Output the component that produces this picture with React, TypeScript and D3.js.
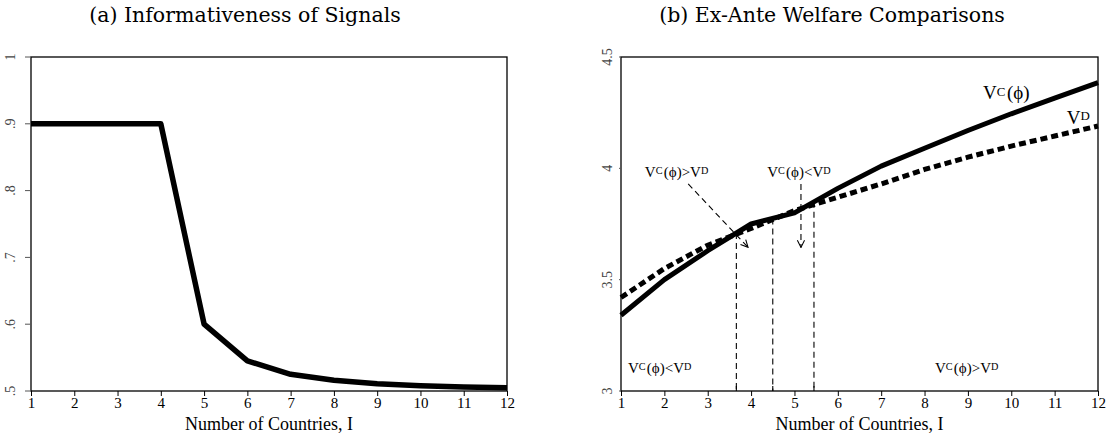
import * as d3 from 'd3';
import { useEffect, useRef } from 'react';

// panel (a): informativeness
const countries = [1, 2, 3, 4, 5, 6, 7, 8, 9, 10, 11, 12];
const informativeness = [0.9, 0.9, 0.9, 0.9, 0.6, 0.545, 0.525, 0.516, 0.511, 0.508, 0.506, 0.505];
const leftTicks = [0.5, 0.6, 0.7, 0.8, 0.9, 1];
const leftTickLabels = ['.5', '.6', '.7', '.8', '.9', '1'];

// panel (b): welfare
const welfareC = [3.34, 3.5, 3.63, 3.75, 3.8, 3.91, 4.01, 4.09, 4.17, 4.245, 4.315, 4.385];
const welfareD = [3.42, 3.55, 3.655, 3.73, 3.81, 3.87, 3.93, 3.995, 4.05, 4.1, 4.145, 4.19];
const rightTicks = [3, 3.5, 4, 4.5];
const rightTickLabels = ['3', '3.5', '4', '4.5'];
const crossings = [3.66, 4.5, 5.45];

const W = 1112;
const H = 438;
const top = 57;
const bottom = 391;
const serif = '"Liberation Serif", "DejaVu Serif", serif';
const titleFont = '"DejaVu Serif", serif';

// V^C(φ) > V^D style label
function vLabel(g, x, y, parts, size, anchor = 'start') {
  const t = g.append('text')
    .attr('x', x).attr('y', y)
    .attr('text-anchor', anchor)
    .style('font-family', serif)
    .style('font-size', size + 'px');
  parts.forEach(p => {
    if (p.sup) {
      t.append('tspan').attr('font-size', size * 0.68).attr('dy', -size * 0.2).text(p.sup);
      t.append('tspan').attr('dy', size * 0.2).text('\u200a');
    } else {
      t.append('tspan').text(p.t);
    }
  });
  return t;
}

const App = () => {
  const ref = useRef(null);

  useEffect(() => {
    document.body.style.margin = '0';
    const svg = d3.select(ref.current);
    svg.selectAll('*').remove();
    svg.append('rect').attr('width', W).attr('height', H).attr('fill', 'white');

    // titles
    svg.append('text').attr('x', 245).attr('y', 22).attr('text-anchor', 'middle')
      .style('font-family', titleFont).style('font-size', '20.5px').text('(a) Informativeness of Signals');
    svg.append('text').attr('x', 832).attr('y', 22).attr('text-anchor', 'middle')
      .style('font-family', titleFont).style('font-size', '20.5px').text('(b) Ex-Ante Welfare Comparisons');

    const drawFrame = (x0, x1, yScale, ticks, labels, tickLen, labelOff) => {
      const xs = d3.scaleLinear().domain([1, 12]).range([x0, x1]);
      const g = svg.append('g');
      g.append('rect').attr('x', x0).attr('y', top).attr('width', x1 - x0).attr('height', bottom - top)
        .attr('fill', 'none').attr('stroke', '#000').attr('stroke-width', 1.3);
      const xa = g.append('g').attr('transform', `translate(0,${bottom})`)
        .call(d3.axisBottom(xs).tickValues(countries).tickSize(5).tickFormat(d3.format('d')));
      xa.select('.domain').remove();
      xa.selectAll('text').style('font-family', serif).style('font-size', '15px').attr('dy', '0.6em');
      g.append('text').attr('x', (x0 + x1) / 2).attr('y', 430).attr('text-anchor', 'middle')
        .style('font-family', serif).style('font-size', '18px').text('Number of Countries, I');
      ticks.forEach((v, i) => {
        const y = yScale(v);
        g.append('line').attr('x1', x0 - tickLen).attr('x2', x0).attr('y1', y).attr('y2', y)
          .attr('stroke', '#555').attr('stroke-width', 1);
        g.append('text').attr('transform', `translate(${x0 - labelOff},${y}) rotate(-90)`)
          .attr('text-anchor', 'middle')
          .style('font-family', serif).style('font-size', '14px').style('fill', '#444')
          .text(labels[i]);
      });
      return xs;
    };

    // panel (a)
    const yA = d3.scaleLinear().domain([0.5, 1]).range([bottom, top]);
    const xA = drawFrame(31, 507, yA, leftTicks, leftTickLabels, 6, 16);
    const lineA = d3.line().x((d, i) => xA(countries[i])).y(d => yA(d));
    svg.append('path').datum(informativeness).attr('d', lineA)
      .attr('fill', 'none').attr('stroke', '#000').attr('stroke-width', 5.5).attr('stroke-linejoin', 'round');

    // panel (b)
    const yB = d3.scaleLinear().domain([3, 4.5]).range([bottom, top]);
    const xB = drawFrame(621, 1098, yB, rightTicks, rightTickLabels, 2, 9);
    const lineB = d3.line().x((d, i) => xB(countries[i])).y(d => yB(d));

    // vertical crossing lines
    const valAt = (arr, x) => {
      const i = Math.floor(x) - 1;
      return arr[i] + (arr[i + 1] - arr[i]) * (x - Math.floor(x));
    };
    crossings.forEach(c => {
      svg.append('line').attr('x1', xB(c)).attr('x2', xB(c))
        .attr('y1', yB(valAt(welfareC, c))).attr('y2', bottom)
        .attr('stroke', '#000').attr('stroke-width', 1.1).attr('stroke-dasharray', '6,4');
      svg.append('line').attr('x1', xB(c)).attr('x2', xB(c))
        .attr('y1', bottom - 5).attr('y2', bottom).attr('stroke', '#000').attr('stroke-width', 1.1);
    });

    svg.append('path').datum(welfareD).attr('d', lineB)
      .attr('fill', 'none').attr('stroke', '#000').attr('stroke-width', 5).attr('stroke-dasharray', '7,4');
    svg.append('path').datum(welfareC).attr('d', lineB)
      .attr('fill', 'none').attr('stroke', '#000').attr('stroke-width', 5).attr('stroke-linejoin', 'round');

    // annotations
    const defs = svg.append('defs');
    defs.append('marker').attr('id', 'arr').attr('viewBox', '0 0 10 10').attr('refX', 9).attr('refY', 5)
      .attr('markerWidth', 9).attr('markerHeight', 9).attr('orient', 'auto-start-reverse')
      .attr('markerUnits', 'userSpaceOnUse')
      .append('path').attr('d', 'M1,1 L9,5 L1,9').attr('fill', 'none').attr('stroke', '#000').attr('stroke-width', 1.2);

    const ga = svg.append('g');
    vLabel(ga, xB(1.55), yB(3.96), [{ t: 'V' }, { sup: 'C' }, { t: '(\u03d5)>V' }, { sup: 'D' }], 15);
    vLabel(ga, xB(4.37), yB(3.96), [{ t: 'V' }, { sup: 'C' }, { t: '(\u03d5)<V' }, { sup: 'D' }], 15);
    ga.append('line').attr('x1', xB(2.55)).attr('y1', yB(3.93)).attr('x2', xB(3.93)).attr('y2', yB(3.645))
      .attr('stroke', '#000').attr('stroke-width', 1.1).attr('stroke-dasharray', '6,4').attr('marker-end', 'url(#arr)');
    ga.append('line').attr('x1', xB(5.15)).attr('y1', yB(3.93)).attr('x2', xB(5.15)).attr('y2', yB(3.645))
      .attr('stroke', '#000').attr('stroke-width', 1.1).attr('stroke-dasharray', '6,4').attr('marker-end', 'url(#arr)');

    vLabel(ga, xB(1.16), yB(3.08), [{ t: 'V' }, { sup: 'C' }, { t: '(\u03d5)<V' }, { sup: 'D' }], 15);
    vLabel(ga, xB(8.24), yB(3.08), [{ t: 'V' }, { sup: 'C' }, { t: '(\u03d5)>V' }, { sup: 'D' }], 15);
    vLabel(ga, xB(9.35), yB(4.31), [{ t: 'V' }, { sup: 'C' }, { t: '(\u03d5)' }], 19);
    vLabel(ga, xB(11.28), yB(4.2), [{ t: 'V' }, { sup: 'D' }], 19);
  }, []);

  return (
    <svg ref={ref} width={W} height={H} style={{ display: 'block' }}></svg>
  );
};

export default App;
